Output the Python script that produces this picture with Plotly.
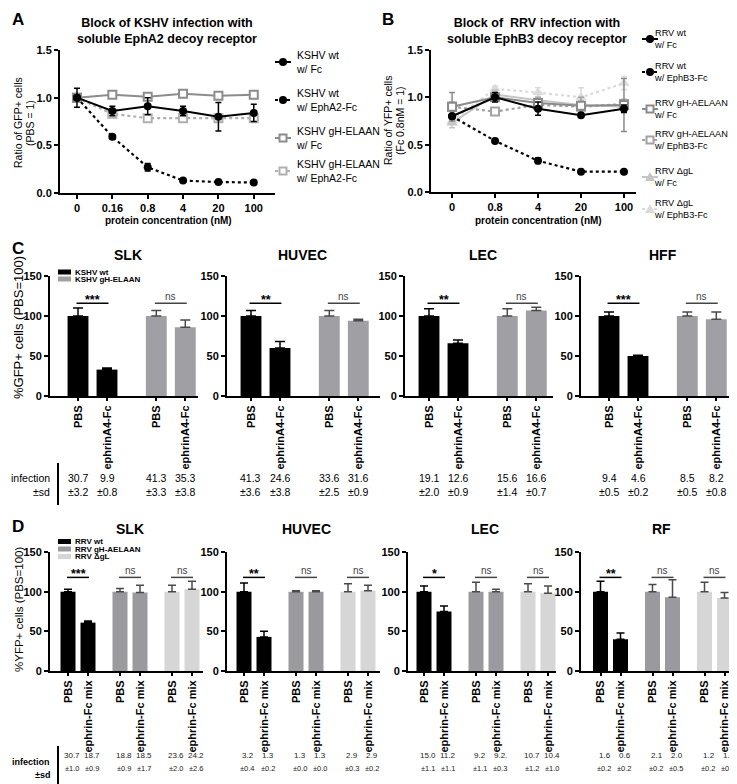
import plotly.graph_objects as go

# ======================= DATA =======================
# Panel A
A_conc = ["0", "0.16", "0.8", "4", "20", "100"]
A_kshv_wt_fc = [1.00, 0.86, 0.91, 0.86, 0.80, 0.84]
A_kshv_wt_fc_sd = [0.10, 0.05, 0.09, 0.05, 0.15, 0.09]
A_kshv_wt_epha2 = [1.00, 0.59, 0.27, 0.13, 0.115, 0.11]
A_kshv_wt_epha2_sd = [0.00, 0.01, 0.04, 0.01, 0.01, 0.01]
A_kshv_gh_fc = [1.00, 1.03, 1.01, 1.04, 1.02, 1.03]
A_kshv_gh_fc_sd = [0.02, 0.02, 0.02, 0.02, 0.03, 0.04]
A_kshv_gh_epha2 = [1.00, 0.83, 0.785, 0.785, 0.785, 0.785]
A_kshv_gh_epha2_sd = [0.02, 0.03, 0.02, 0.02, 0.03, 0.03]
A_names = ["KSHV wt<br>w/ Fc", "KSHV wt<br>w/ EphA2-Fc",
           "KSHV gH-ELAAN<br>w/ Fc", "KSHV gH-ELAAN<br>w/ EphA2-Fc"]

# Panel B
B_conc = ["0", "0.8", "4", "20", "100"]
B_rrv_wt_fc = [0.80, 1.00, 0.88, 0.81, 0.88]
B_rrv_wt_fc_sd = [0.02, 0.05, 0.07, 0.02, 0.04]
B_rrv_wt_ephb3 = [0.80, 0.54, 0.33, 0.215, 0.215]
B_rrv_wt_ephb3_sd = [0.00, 0.01, 0.03, 0.01, 0.01]
B_rrv_gh_fc = [0.90, 1.00, 0.94, 0.91, 0.92]
B_rrv_gh_fc_sd = [0.15, 0.04, 0.05, 0.04, 0.28]
B_rrv_gh_ephb3 = [0.90, 0.85, 0.92, 0.90, 0.93]
B_rrv_gh_ephb3_sd = [0.05, 0.02, 0.03, 0.10, 0.05]
B_rrv_dgl_fc = [0.73, 1.03, 0.97, 0.92, 0.90]
B_rrv_dgl_fc_sd = [0.05, 0.05, 0.04, 0.05, 0.05]
B_rrv_dgl_ephb3 = [0.75, 1.09, 1.05, 1.00, 1.15]
B_rrv_dgl_ephb3_sd = [0.03, 0.03, 0.05, 0.10, 0.07]
B_names = ["RRV wt<br>w/ Fc", "RRV wt<br>w/ EphB3-Fc",
           "RRV gH-AELAAN<br>w/ Fc", "RRV gH-AELAAN<br>w/ EphB3-Fc",
           "RRV ΔgL<br>w/ Fc", "RRV ΔgL<br>w/ EphB3-Fc"]

# Panel C
C_cells = ["SLK", "HUVEC", "LEC", "HFF"]
C_treat = ["PBS", "ephrinA4-Fc"]
C_groups = ["KSHV wt", "KSHV gH-ELAAN"]
C_wt = [[100, 33], [100, 60], [100, 66], [100, 50]]
C_wt_sd = [[10, 2], [7, 8], [9, 4], [5, 1]]
C_gh = [[100, 86], [100, 94], [100, 107], [100, 96]]
C_gh_sd = [[7, 9], [7, 2], [9, 4], [5, 9]]
C_sig = [["***", "ns"], ["**", "ns"], ["**", "ns"], ["***", "ns"]]
C_inf = [["30.7", "9.9", "41.3", "35.3"], ["41.3", "24.6", "33.6", "31.6"],
         ["19.1", "12.6", "15.6", "16.6"], ["9.4", "4.6", "8.5", "8.2"]]
C_sd = [["±3.2", "±0.8", "±3.3", "±3.8"], ["±3.6", "±3.8", "±2.5", "±0.9"],
        ["±2.0", "±0.9", "±1.4", "±0.7"], ["±0.5", "±0.2", "±0.5", "±0.8"]]

# Panel D
D_cells = ["SLK", "HUVEC", "LEC", "RF"]
D_treat = ["PBS", "ephrin-Fc mix"]
D_groups = ["RRV wt", "RRV gH-AELAAN", "RRV ΔgL"]
D_wt = [[100, 61], [100, 43], [100, 75], [100, 40]]
D_wt_sd = [[3, 2], [11, 7], [7, 7], [13, 8]]
D_gh = [[100, 99], [100, 100], [100, 100], [100, 93]]
D_gh_sd = [[4, 9], [1, 1], [12, 3], [9, 22]]
D_dgl = [[100, 103], [100, 101], [100, 98], [100, 92]]
D_dgl_sd = [[8, 10], [10, 7], [10, 9], [12, 7]]
D_sig = [["***", "ns", "ns"], ["**", "ns", "ns"], ["*", "ns", "ns"], ["**", "ns", "ns"]]
D_inf = [["30.7", "18.7", "18.8", "18.5", "23.6", "24.2"],
         ["3.2", "1.3", "1.3", "1.3", "2.9", "2.9"],
         ["15.0", "11.2", "9.2", "9.2.", "10.7", "10.4"],
         ["1.6", "0.6", "2.1", "2.0", "1.2", "1.1"]]
D_sd = [["±1.0", "±0.9", "±0.9", "±1.7", "±2.0", "±2.6"],
        ["±0.4", "±0.2", "±0.0", "±0.0", "±0.3", "±0.2"],
        ["±1.1", "±1.1", "±1.1", "±0.3", "±1.2", "±1.0"],
        ["±0.2", "±0.2", "±0.2", "±0.5", "±0.2", "±0.1"]]

# ======================= LAYOUT CONSTANTS =======================
W, H = 737, 784
def fx(p): return p / W
def fy(p): return 1 - p / H

SANS = "Liberation Sans, Arial, Helvetica, sans-serif"
NARROW = "Liberation Sans Narrow, Arial Narrow, Liberation Sans, Arial, sans-serif"

A_styles = [dict(color="#000000", dash="solid", symbol="circle"),
            dict(color="#000000", dash="dot", symbol="circle"),
            dict(color="#8c8c8c", dash="solid", symbol="square"),
            dict(color="#b0b0b0", dash="dot", symbol="square")]
B_styles = [dict(color="#000000", dash="solid", symbol="circle"),
            dict(color="#000000", dash="dot", symbol="circle"),
            dict(color="#8a8a8a", dash="solid", symbol="square"),
            dict(color="#a2a2a2", dash="dot", symbol="square"),
            dict(color="#c6c6c6", dash="solid", symbol="triangle-up"),
            dict(color="#dadada", dash="dot", symbol="triangle-up")]

C_colors = ["#000000", "#a0a0a4"]
D_colors = ["#000000", "#9a9a9e", "#d6d6d6"]

C_pos = [0, 1, 2.7, 3.7]          # bar slots (units) in C panels
C_unit = 29.0                      # px per unit
C_axpx = [(42, 190, 70), (219, 372, 243), (397, 545, 421), (573, 723, 601)]
C_title_x = [120, 294, 475, 655]
D_pos = [0, 1, 2.6, 3.6, 5.2, 6.2]
D_unit = 20.0
D_axpx = [(42, 195, 60), (219, 372, 236), (400, 548, 416), (573, 730, 592.5)]
D_title_x = [122, 298, 477, 653]

fig = go.Figure()
shapes = []
annotations = []
axes = {}


def ann(text, x, y, size=11, bold=False, family=SANS, xanchor="center",
        yanchor="middle", angle=0, color="black", align="center", xref="paper", yref="paper"):
    annotations.append(dict(
        text=text, showarrow=False, xanchor=xanchor, yanchor=yanchor, textangle=angle,
        align=align, xref=xref, yref=yref, borderpad=0,
        x=fx(x) if xref == "paper" else x, y=fy(y) if yref == "paper" else y,
        font=dict(family=family, size=size, color=color, weight="bold" if bold else "normal")))


def base_axis(**kw):
    d = dict(showline=True, linecolor="black", linewidth=2, ticks="outside", ticklen=4,
             tickwidth=1.5, tickcolor="black", showgrid=False, zeroline=False,
             fixedrange=True, automargin=False,
             tickfont=dict(family=SANS, size=11, color="black", weight="bold"))
    d.update(kw)
    return d


def legend_sample(x0, x1, y, st, msize=4):
    shapes.append(dict(type="line", xref="paper", yref="paper", x0=fx(x0), x1=fx(x1),
                       y0=fy(y), y1=fy(y),
                       line=dict(color=st["color"], width=2, dash=st["dash"])))
    cx = (x0 + x1) / 2
    if st["symbol"] == "circle":
        shapes.append(dict(type="circle", xref="paper", yref="paper",
                           x0=fx(cx - msize), x1=fx(cx + msize), y0=fy(y + msize), y1=fy(y - msize),
                           fillcolor=st["color"], line=dict(color=st["color"], width=0)))
    elif st["symbol"] == "square":
        s = msize - 0.5
        shapes.append(dict(type="rect", xref="paper", yref="paper",
                           x0=fx(cx - s), x1=fx(cx + s), y0=fy(y + s), y1=fy(y - s),
                           fillcolor="white", line=dict(color=st["color"], width=2)))
    else:
        p = "M {:.5f},{:.5f} L {:.5f},{:.5f} L {:.5f},{:.5f} Z".format(
            fx(cx - 5), fy(y + 4), fx(cx + 5), fy(y + 4), fx(cx), fy(y - 5))
        shapes.append(dict(type="path", xref="paper", yref="paper", path=p,
                           fillcolor=st["color"], line=dict(color=st["color"], width=0)))


def line_panel(xa, ya, cats, vals, sds, styles, order):
    for k in order:
        st = styles[k]
        if st["symbol"] == "square":
            marker = dict(symbol="square", size=8, color="white",
                          line=dict(color=st["color"], width=2))
        elif st["symbol"] == "triangle-up":
            marker = dict(symbol="triangle-up", size=10, color=st["color"],
                          line=dict(color=st["color"], width=0))
        else:
            marker = dict(symbol="circle", size=8, color=st["color"],
                          line=dict(color=st["color"], width=0))
        fig.add_trace(go.Scatter(
            x=cats, y=vals[k], mode="lines+markers", xaxis=xa, yaxis=ya, showlegend=False,
            line=dict(color=st["color"], width=2.2 if st["dash"] == "dot" else 2, dash=st["dash"]),
            marker=marker,
            error_y=dict(type="data", array=sds[k], color=st["color"], thickness=1.5, width=3)))


# ======================= PANEL A =======================
axes["xaxis"] = base_axis(domain=[fx(52), fx(267)], type="category", categoryorder="array",
                          categoryarray=A_conc, range=[-0.48, 5.6], anchor="y")
axes["yaxis"] = base_axis(domain=[fy(185), fy(42)], range=[0, 1.5],
                          tickvals=[0, 0.5, 1.0, 1.5], tickformat=".1f", anchor="x")
line_panel("x", "y", A_conc,
           [A_kshv_wt_fc, A_kshv_wt_epha2, A_kshv_gh_fc, A_kshv_gh_epha2],
           [A_kshv_wt_fc_sd, A_kshv_wt_epha2_sd, A_kshv_gh_fc_sd, A_kshv_gh_epha2_sd],
           A_styles, [3, 2, 1, 0])
ann("A", 10, 12, size=17, bold=True)
ann("Block of KSHV infection with<br>soluble EphA2 decoy receptor", 159, 23, size=12.5, bold=True)
ann("Ratio of GFP+ cells", 10, 115, size=10.5, family=NARROW, angle=-90)
ann("(PBS = 1)", 22, 115, size=10.5, family=NARROW, angle=-90)
ann("protein concentration (nM)", 160, 212, size=10, bold=True)
for k, cy in enumerate([54, 92, 130, 163]):
    legend_sample(267, 283, cy, A_styles[k])
    ann(A_names[k], 287, cy, size=10.5, family=NARROW, xanchor="left", align="left")

# ======================= PANEL B =======================
axes["xaxis2"] = base_axis(domain=[fx(423), fx(628)], type="category", categoryorder="array",
                           categoryarray=B_conc, range=[-0.49, 4.28], anchor="y2")
axes["yaxis2"] = base_axis(domain=[fy(184), fy(42)], range=[0, 1.5],
                           tickvals=[0, 0.5, 1.0, 1.5], tickformat=".1f", anchor="x2")
line_panel("x2", "y2", B_conc,
           [B_rrv_wt_fc, B_rrv_wt_ephb3, B_rrv_gh_fc, B_rrv_gh_ephb3, B_rrv_dgl_fc, B_rrv_dgl_ephb3],
           [B_rrv_wt_fc_sd, B_rrv_wt_ephb3_sd, B_rrv_gh_fc_sd, B_rrv_gh_ephb3_sd,
            B_rrv_dgl_fc_sd, B_rrv_dgl_ephb3_sd],
           B_styles, [5, 4, 3, 2, 1, 0])
ann("B", 380, 12, size=17, bold=True)
ann("Block of  RRV infection with<br>soluble EphB3 decoy receptor", 529, 23, size=12.5, bold=True)
ann("Ratio of YFP+ cells", 380, 113, size=10.5, family=NARROW, angle=-90)
ann("(Fc 0.8nM = 1)", 392, 113, size=10.5, family=NARROW, angle=-90)
ann("protein concentration (nM)", 530, 212, size=10, bold=True)
for k, cy in enumerate([31, 64, 101, 132, 169, 201]):
    legend_sample(634, 650, cy, B_styles[k])
    ann(B_names[k], 645, cy, size=9.2, family=NARROW, xanchor="left", align="left")


# ======================= BAR PANELS =======================
def bar_panel(n, axpx, unit, pos, groups_vals, groups_sds, colors, width, ylo, yhi,
              ticktext, sig, siglevel, capw):
    a, b, c = axpx
    xa, ya = "x%d" % n, "y%d" % n
    axes["xaxis%d" % n] = base_axis(domain=[fx(a), fx(b)], range=[(a - c) / unit, (b - c) / unit],
                                    tickvals=pos, ticktext=ticktext, tickangle=-90, ticklen=3,
                                    anchor=ya)
    axes["yaxis%d" % n] = base_axis(domain=[fy(ylo), fy(yhi)], range=[0, 150],
                                    tickvals=[0, 50, 100, 150], anchor=xa)
    for g, (vals, sds) in enumerate(zip(groups_vals, groups_sds)):
        xs = pos[2 * g:2 * g + 2]
        ecol = "#000000" if colors[g] == "#000000" else "#4a4a4a"
        fig.add_trace(go.Bar(
            x=xs, y=vals, width=width, xaxis=xa, yaxis=ya, showlegend=False,
            marker=dict(color=colors[g], line=dict(width=0)),
            error_y=dict(type="data", symmetric=False, array=sds, arrayminus=[0] * len(sds),
                         color=ecol, thickness=1.5, width=capw)))
        x0, x1 = xs[0] - 0.05, xs[1] + 0.05
        star = sig[g] != "ns"
        shapes.append(dict(type="line", xref=xa, yref=ya, x0=x0, x1=x1, y0=siglevel, y1=siglevel,
                           line=dict(color="black" if star else "#444444", width=1.5)))
        annotations.append(dict(
            text=sig[g], showarrow=False, xref=xa, yref=ya, x=(xs[0] + xs[1]) / 2,
            y=siglevel, yanchor="bottom", xanchor="center", yshift=-5 if star else 0,
            borderpad=0,
            font=dict(family=SANS, size=12.5 if star else 10, color="black" if star else "#444444",
                      weight="bold" if star else "normal")))


# Panel C
for i in range(4):
    bar_panel(3 + i, C_axpx[i], C_unit, C_pos, [C_wt[i], C_gh[i]], [C_wt_sd[i], C_gh_sd[i]],
              C_colors, 0.72, 388, 268, C_treat * 2, C_sig[i], 116, 5)
    ann(C_cells[i], C_title_x[i], 247, size=14, bold=True)
    for j in range(4):
        annotations.append(dict(text=C_inf[i][j], showarrow=False, xref="x%d" % (3 + i), yref="paper",
                                x=C_pos[j], y=fy(470), font=dict(family=NARROW, size=10.5, color="black")))
        annotations.append(dict(text=C_sd[i][j], showarrow=False, xref="x%d" % (3 + i), yref="paper",
                                x=C_pos[j], y=fy(484), font=dict(family=NARROW, size=10.5, color="black")))
ann("C", 10, 240, size=17, bold=True)
ann("%GFP+ cells (PBS=100)", 10, 320, size=13, angle=-90)
ann("infection", 43, 470, size=10.5, family=NARROW, xanchor="right")
ann("±sd", 43, 484, size=10.5, family=NARROW, xanchor="right")
shapes.append(dict(type="line", xref="paper", yref="paper", x0=fx(50), x1=fx(50),
                   y0=fy(455), y1=fy(497), line=dict(color="black", width=2)))
for k, (cy, col) in enumerate(zip([264, 271], C_colors)):
    shapes.append(dict(type="rect", xref="paper", yref="paper", x0=fx(50), x1=fx(63),
                       y0=fy(cy + 2.5), y1=fy(cy - 2.5), fillcolor=col, line=dict(width=0)))
    ann(C_groups[k], 66, cy, size=8, bold=True, xanchor="left")

# Panel D
for i in range(4):
    bar_panel(7 + i, D_axpx[i], D_unit, D_pos, [D_wt[i], D_gh[i], D_dgl[i]],
              [D_wt_sd[i], D_gh_sd[i], D_dgl_sd[i]],
              D_colors, 0.75, 663, 544, D_treat * 3, D_sig[i], 118, 4)
    ann(D_cells[i], D_title_x[i], 521, size=14, bold=True)
    for j in range(6):
        annotations.append(dict(text=D_inf[i][j], showarrow=False, xref="x%d" % (7 + i), yref="paper",
                                x=D_pos[j] + 0.2, y=fy(754), font=dict(family=NARROW, size=8, color="#222222")))
        annotations.append(dict(text=D_sd[i][j], showarrow=False, xref="x%d" % (7 + i), yref="paper",
                                x=D_pos[j] + 0.2, y=fy(767), font=dict(family=NARROW, size=7.5, color="#222222")))
ann("D", 10, 518, size=17, bold=True)
ann("%YFP+ cells (PBS=100)", 11, 602, size=11.5, angle=-90)
ann("infection", 43, 754, size=9, family=NARROW, xanchor="right", bold=True)
ann("±sd", 43, 767, size=9, family=NARROW, xanchor="right", bold=True)
shapes.append(dict(type="line", xref="paper", yref="paper", x0=fx(50), x1=fx(50),
                   y0=fy(738), y1=fy(780), line=dict(color="black", width=2)))
for k, (cy, col) in enumerate(zip([533.5, 541, 548.5], D_colors)):
    shapes.append(dict(type="rect", xref="paper", yref="paper", x0=fx(50), x1=fx(63),
                       y0=fy(cy + 2.5), y1=fy(cy - 2.5), fillcolor=col, line=dict(width=0)))
    ann(D_groups[k], 66, cy, size=8, bold=True, xanchor="left")

fig.update_layout(
    template="none", width=W, height=H, margin=dict(l=0, r=0, t=0, b=0),
    paper_bgcolor="white", plot_bgcolor="white", showlegend=False, barmode="overlay",
    font=dict(family=SANS, color="black"), shapes=shapes, annotations=annotations, **axes)

fig.write_html("out.html")
